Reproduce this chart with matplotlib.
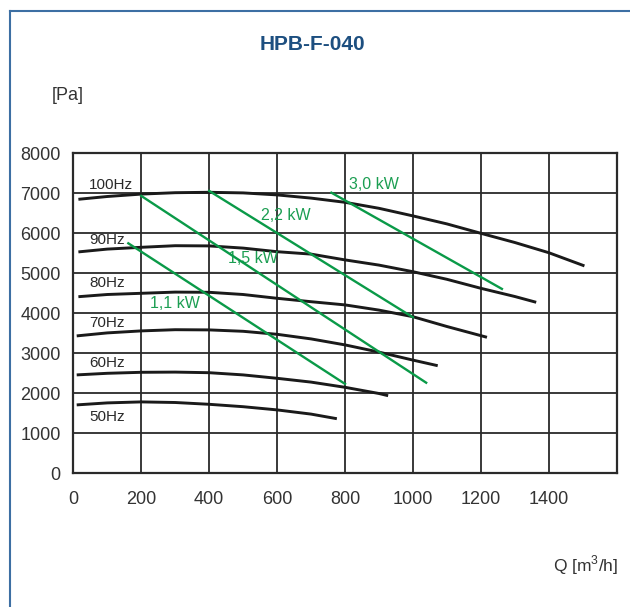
import matplotlib
matplotlib.use('Agg')
import matplotlib.pyplot as plt
from matplotlib.lines import Line2D

plt.rcParams['font.family'] = ['Liberation Sans', 'DejaVu Sans']

# curve data: flow [m3/h] and pressure [Pa] per frequency
q_100 = [15, 100, 200, 300, 400, 500, 600, 700, 800, 900, 1000, 1100, 1200, 1300, 1400, 1505]
p_100 = [6850, 6920, 6980, 7015, 7025, 7010, 6960, 6880, 6775, 6625, 6435, 6235, 6000, 5770, 5515, 5185]
q_90 = [15, 100, 200, 300, 400, 500, 600, 700, 800, 900, 1000, 1100, 1200, 1300, 1363]
p_90 = [5535, 5605, 5650, 5690, 5685, 5630, 5540, 5480, 5335, 5205, 5040, 4850, 4625, 4420, 4275]
q_80 = [15, 100, 200, 300, 400, 500, 600, 700, 800, 900, 1000, 1100, 1218]
p_80 = [4415, 4470, 4500, 4530, 4525, 4470, 4375, 4290, 4210, 4080, 3915, 3670, 3400]
q_70 = [10, 100, 200, 300, 400, 500, 600, 700, 800, 900, 1000, 1073]
p_70 = [3435, 3510, 3560, 3590, 3585, 3550, 3475, 3360, 3210, 3030, 2830, 2690]
q_60 = [10, 100, 200, 300, 400, 500, 600, 700, 800, 900, 927]
p_60 = [2460, 2500, 2525, 2530, 2515, 2460, 2375, 2280, 2150, 1995, 1940]
q_50 = [10, 100, 200, 300, 400, 500, 600, 700, 776]
p_50 = [1710, 1760, 1785, 1770, 1725, 1665, 1585, 1480, 1365]

hz_labels = ['100Hz', '90Hz', '80Hz', '70Hz', '60Hz', '50Hz']
hz_label_y = [7210, 5835, 4760, 3760, 2760, 1410]

# power lines (start / end)
kw_labels = ['1,1 kW', '1,5 kW', '2,2 kW', '3,0 kW']
kw_q = [[162, 800], [200, 1039], [400, 1000], [760, 1262]]
kw_p = [[5750, 2235], [6935, 2265], [7060, 3900], [7015, 4610]]
kw_label_q = [226, 456, 554, 812]
kw_label_p = [4235, 5375, 6440, 7210]

x_ticks = [0, 200, 400, 600, 800, 1000, 1200, 1400]
y_ticks = [0, 1000, 2000, 3000, 4000, 5000, 6000, 7000, 8000]

W, H = 630, 607
fig = plt.figure(figsize=(W / 100, H / 100), dpi=100)
ax = fig.add_axes([73.3 / W, (H - 473.3) / H, (616.7 - 73.3) / W, 320 / H])

green = '#0a9a48'
curves = [(q_100, p_100), (q_90, p_90), (q_80, p_80), (q_70, p_70), (q_60, p_60), (q_50, p_50)]
for q, p in curves:
    ax.plot(q, p, color='#1a1a1a', lw=2.1, solid_capstyle='butt', zorder=3)
for lab, y in zip(hz_labels, hz_label_y):
    ax.text(47, y, lab, fontsize=11, color='#2a2a2a', va='center', ha='left')

for q, p in zip(kw_q, kw_p):
    ax.plot(q, p, color=green, lw=1.7, zorder=4)
for lab, x, y in zip(kw_labels, kw_label_q, kw_label_p):
    ax.text(x, y, lab, fontsize=11.5, color='#1c9e52', va='center', ha='left')

ax.set_xlim(0, 1600)
ax.set_ylim(0, 8000)
ax.set_xticks(x_ticks + [1600])
ax.set_xticklabels([str(v) for v in x_ticks] + [''])
ax.set_yticks(y_ticks)
ax.grid(True, color='#2a2a2a', lw=1.3)
ax.set_axisbelow(True)
for s in ax.spines.values():
    s.set_color('#2a2a2a')
    s.set_linewidth(1.6)
ax.tick_params(length=0, labelsize=13, colors='#333333')
ax.tick_params(axis='y', pad=9)
ax.tick_params(axis='x', pad=13)

fig.text(312 / W, 1 - 44 / H, 'HPB-F-040', fontsize=15, fontweight='bold',
         color='#1d4f80', ha='center', va='center')
fig.text(52 / W, 1 - 95 / H, '[Pa]', fontsize=13, color='#333333', ha='left', va='center')
fig.text(618 / W, 1 - 565 / H, r'Q [m$^{\mathregular{3}}$/h]', fontsize=12.5, color='#333333',
         ha='right', va='center')

# frame (top and left edges)
fig.add_artist(Line2D([9.7 / W, 1], [1 - 11 / H, 1 - 11 / H], color='#3d6fa3', lw=1.5))
fig.add_artist(Line2D([9.7 / W, 9.7 / W], [0, 1 - 11 / H], color='#3d6fa3', lw=1.5))

fig.savefig('out.png', dpi=100)
